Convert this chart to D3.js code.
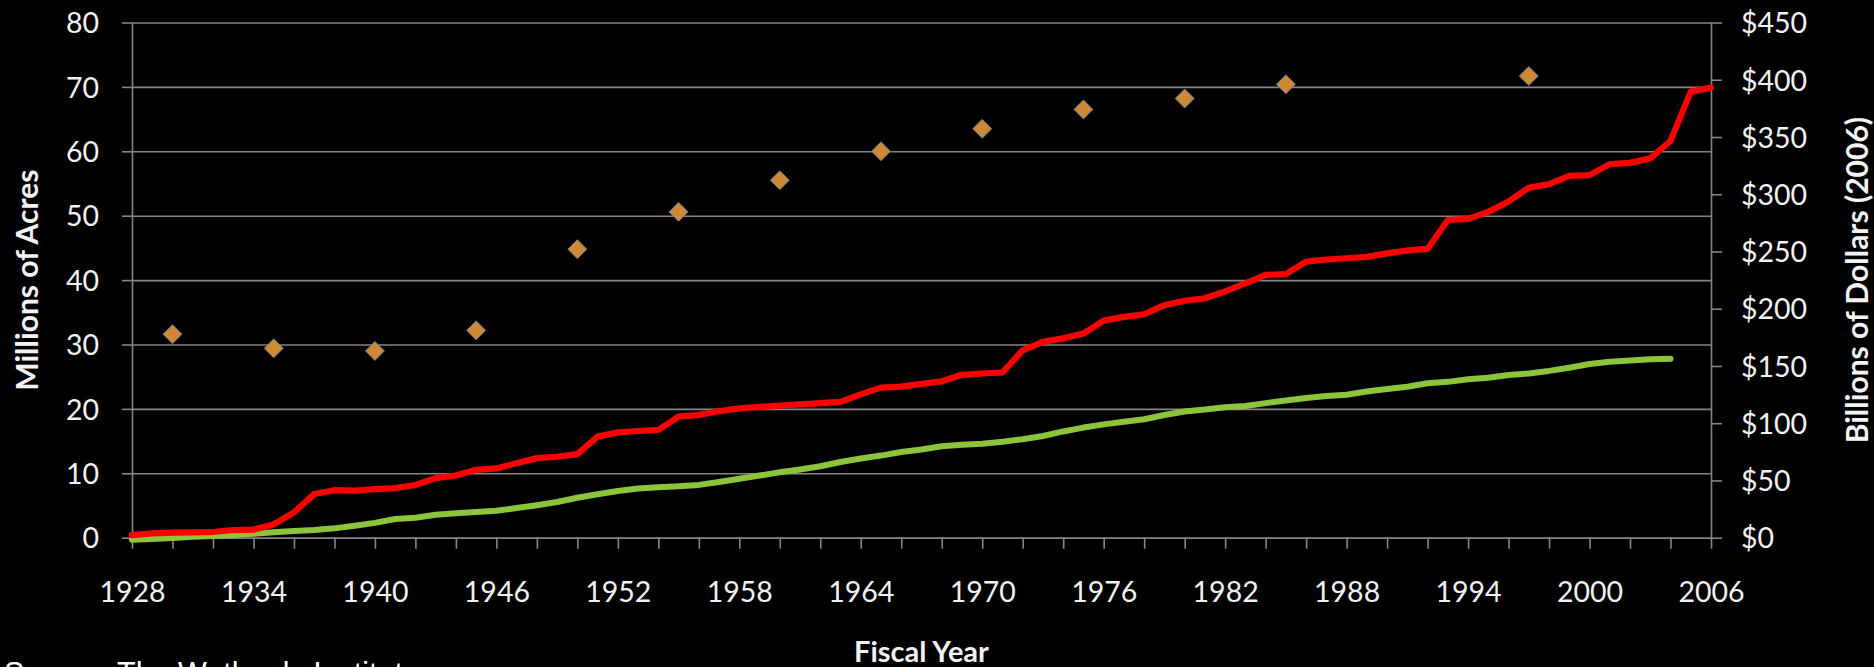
<!DOCTYPE html>
<html>
<head>
<meta charset="utf-8">
<script src="https://cdn.jsdelivr.net/npm/d3@7"></script>
<style>
  html, body { margin: 0; padding: 0; background: #000; }
  svg { display: block; }
</style>
</head>
<body>
<svg id="chart" width="1874" height="667"></svg>
<script>
// Fiscal years on the category axis
const years = d3.range(1928, 2007);

// Cumulative spending, billions of 2006 dollars (right axis)
const dollars = [
  2.3, 3.8, 4.4, 4.7, 5.0, 6.7, 7.0, 11.6, 22.1, 38.1,
  41.5, 41.1, 42.5, 43.3, 46.0, 52.0, 54.3, 59.3, 60.5, 65.1,
  69.5, 70.7, 73.0, 88.3, 92.0, 93.2, 94.1, 105.8, 107.2, 110.6,
  113.0, 114.2, 115.3, 116.4, 117.6, 118.7, 125.2, 131.1, 131.9, 134.3,
  136.6, 142.3, 143.4, 144.3, 163.7, 171.0, 174.1, 178.3, 189.6, 192.9,
  195.2, 203.1, 207.0, 209.1, 215.2, 222.2, 229.5, 230.3, 241.1, 243.0,
  244.1, 245.3, 248.3, 250.9, 252.2, 277.5, 278.4, 284.6, 293.6, 305.7,
  308.8, 316.0, 316.7, 326.3, 327.4, 331.3, 346.5, 389.6, 393.1
];

// Cumulative acres, millions (left axis), 1928-2004
const acres = [
  -0.3, -0.2, -0.05, 0.15, 0.28, 0.42, 0.6, 0.85, 1.05, 1.2,
  1.45, 1.85, 2.3, 2.9, 3.1, 3.55, 3.8, 3.98, 4.2, 4.6,
  5.05, 5.55, 6.2, 6.75, 7.25, 7.65, 7.82, 7.98, 8.2, 8.65,
  9.15, 9.65, 10.15, 10.6, 11.1, 11.75, 12.3, 12.75, 13.3, 13.7,
  14.2, 14.45, 14.6, 14.9, 15.3, 15.8, 16.5, 17.1, 17.6, 18.0,
  18.4, 19.05, 19.6, 19.9, 20.25, 20.45, 20.9, 21.3, 21.7, 22.0,
  22.2, 22.7, 23.1, 23.45, 23.97, 24.2, 24.6, 24.85, 25.26, 25.5,
  25.9, 26.4, 26.97, 27.33, 27.5, 27.7, 27.8
];

// Survey points, millions of acres (left axis)
const surveyYears = [1930, 1935, 1940, 1945, 1950, 1955, 1960, 1965, 1970, 1975, 1980, 1985, 1997];
const surveyAcres = [31.6, 29.4, 29.0, 32.2, 44.8, 50.6, 55.5, 60.0, 63.5, 66.5, 68.2, 70.4, 71.7];

// Axis ticks
const xTicks = d3.range(1928, 2007, 2);
const xTickLabels = ["1928", "1934", "1940", "1946", "1952", "1958", "1964", "1970", "1976", "1982", "1988", "1994", "2000", "2006"];
const leftTicks = [0, 10, 20, 30, 40, 50, 60, 70, 80];
const rightTicks = [0, 50, 100, 150, 200, 250, 300, 350, 400, 450];

const plot = { left: 132, right: 1711, top: 22.5, bottom: 537.7 };
const gridColor = "#858585";
const textColor = "#f2f2f2";
const tickFont = "Lato, 'Open Sans', sans-serif";

const svg = d3.select("#chart");

const x = d3.scaleLinear().domain([1928, 2006]).range([plot.left, plot.right]);
const yL = d3.scaleLinear().domain([0, 80]).range([plot.bottom, plot.top]);
const yR = d3.scaleLinear().domain([0, 450]).range([plot.bottom, plot.top]);

function styleAxis(g) {
  g.selectAll("path").attr("stroke", gridColor).attr("stroke-width", 1.6);
  g.selectAll("line").attr("stroke", gridColor).attr("stroke-width", 1.6);
  g.selectAll("text")
    .attr("fill", textColor)
    .style("font-family", tickFont)
    .style("font-size", "28.5px");
}

// Horizontal gridlines
svg.append("g")
  .attr("transform", `translate(${plot.left},0)`)
  .call(d3.axisLeft(yL).tickValues(leftTicks).tickSize(-(plot.right - plot.left)).tickFormat(""))
  .call(g => g.select(".domain").remove())
  .call(styleAxis);

// Left axis
svg.append("g")
  .attr("transform", `translate(${plot.left},0)`)
  .call(d3.axisLeft(yL).tickValues(leftTicks).tickSize(10).tickSizeOuter(0).tickPadding(23))
  .call(styleAxis)
  .call(g => g.selectAll("text").attr("dy", "0.36em"));

// Right axis
svg.append("g")
  .attr("transform", `translate(${plot.right},0)`)
  .call(d3.axisRight(yR).tickValues(rightTicks).tickSize(11).tickSizeOuter(0).tickPadding(19)
    .tickFormat(d => "$" + d))
  .call(styleAxis)
  .call(g => g.selectAll("text").attr("dy", "0.36em"));

// Bottom axis
svg.append("g")
  .attr("transform", `translate(0,${plot.bottom})`)
  .call(d3.axisBottom(x).tickValues(xTicks).tickSize(11).tickSizeOuter(0)
    .tickFormat(d => xTickLabels.includes(String(d)) ? String(d) : ""))
  .call(styleAxis)
  .call(g => g.selectAll("text").attr("y", 64).attr("dy", null));

// Lines
const line = (yScale) => d3.line().x(d => x(d[0])).y(d => yScale(d[1]));

svg.append("path")
  .datum(years.slice(0, acres.length).map((yr, i) => [yr, acres[i]]))
  .attr("d", line(yL))
  .attr("fill", "none")
  .attr("stroke", "#8cc43c")
  .attr("stroke-width", 6)
  .attr("stroke-linejoin", "round")
  .attr("stroke-linecap", "round");

svg.append("path")
  .datum(years.map((yr, i) => [yr, dollars[i]]))
  .attr("d", line(yR))
  .attr("fill", "none")
  .attr("stroke", "#ff0000")
  .attr("stroke-width", 6.2)
  .attr("stroke-linejoin", "round")
  .attr("stroke-linecap", "round");

// Survey markers
svg.append("g")
  .selectAll("path")
  .data(surveyYears.map((yr, i) => [yr, surveyAcres[i]]))
  .join("path")
  .attr("transform", d => `translate(${x(d[0])},${yL(d[1])})`)
  .attr("d", "M0,-9.5L9.5,0L0,9.5L-9.5,0Z")
  .attr("fill", "#cf8934")
  .attr("stroke", "#5f7598")
  .attr("stroke-width", 1);

// Axis titles
svg.append("text")
  .attr("transform", `translate(38,${(plot.top + plot.bottom) / 2}) rotate(-90)`)
  .attr("text-anchor", "middle")
  .attr("fill", textColor)
  .style("font-family", tickFont)
  .style("font-weight", "bold")
  .style("font-size", "30px")
  .text("Millions of Acres");

svg.append("text")
  .attr("transform", `translate(1868,${(plot.top + plot.bottom) / 2}) rotate(-90)`)
  .attr("text-anchor", "middle")
  .attr("fill", textColor)
  .style("font-family", tickFont)
  .style("font-weight", "bold")
  .style("font-size", "30px")
  .text("Billions of Dollars (2006)");

svg.append("text")
  .attr("x", (plot.left + plot.right) / 2)
  .attr("y", 662)
  .attr("text-anchor", "middle")
  .attr("fill", textColor)
  .style("font-family", tickFont)
  .style("font-weight", "bold")
  .style("font-size", "29px")
  .text("Fiscal Year");

svg.append("text")
  .attr("x", 4)
  .attr("y", 684)
  .attr("fill", "#ffffff")
  .style("font-family", "'Liberation Sans', Arial, sans-serif")
  .style("font-size", "30.5px")
  .text("Source: The Wetlands Institute");
</script>
</body>
</html>
